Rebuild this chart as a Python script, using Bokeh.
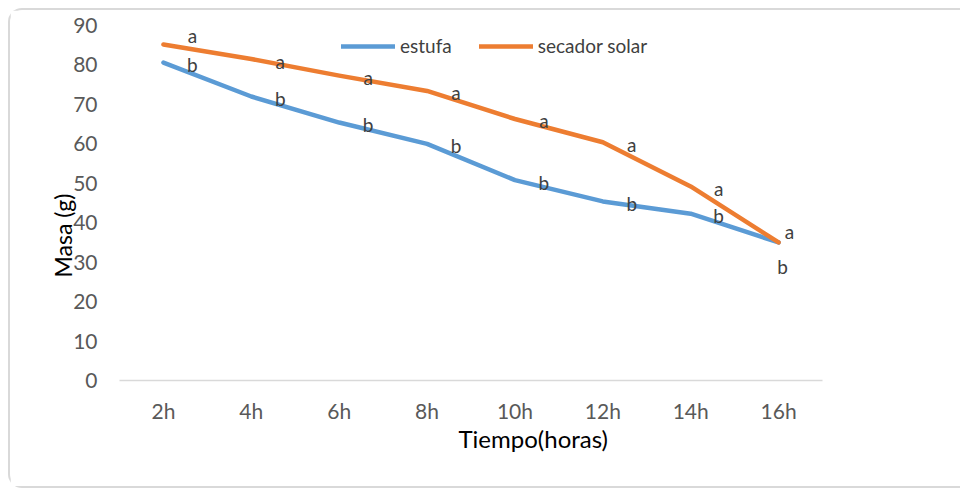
import math
from bokeh.plotting import figure
from bokeh.models import ColumnDataSource, Range1d, FixedTicker, Title, Legend, LegendItem
from bokeh.core.properties import value
from bokeh.embed import file_html
from bokeh.resources import INLINE

horas = ["2h", "4h", "6h", "8h", "10h", "12h", "14h", "16h"]
estufa = [80.6, 72.0, 65.4, 60.0, 50.8, 45.4, 42.3, 35.0]
secador_solar = [85.2, 81.5, 77.3, 73.4, 66.3, 60.4, 49.2, 35.0]
letras_estufa = ["b", "b", "b", "b", "b", "b", "b", "b"]
letras_secador = ["a", "a", "a", "a", "a", "a", "a", "a"]
y_ticks = [0, 10, 20, 30, 40, 50, 60, 70, 80, 90]

FONT = "Lato"
BLUE = "#5B9BD5"
ORANGE = "#ED7D31"

p = figure(x_range=horas, y_range=Range1d(0, 90), width=952, height=480,
           output_backend="svg", toolbar_location=None,
           min_border_left=109, min_border_right=140, min_border_top=15, min_border_bottom=110)
p.outline_line_color = None
p.xgrid.grid_line_color = None
p.ygrid.grid_line_color = None
p.styles = {"margin-left": "8px", "margin-top": "8px",
            "border-left": "2px solid #d9d9d9", "border-top": "2px solid #d9d9d9",
            "border-bottom": "2px solid #d9d9d9", "border-top-left-radius": "14px",
            "border-bottom-left-radius": "14px"}

p.yaxis.ticker = FixedTicker(ticks=y_ticks)
p.yaxis.axis_line_color = None
p.yaxis.major_tick_line_color = None
p.yaxis.minor_tick_line_color = None
p.yaxis.major_label_standoff = 16
p.xaxis.axis_line_color = "#d9d9d9"
p.xaxis.axis_line_width = 1.5
p.xaxis.major_tick_line_color = None
p.xaxis.minor_tick_line_color = None
p.xaxis.major_label_standoff = 11
for ax in (p.xaxis, p.yaxis):
    ax.major_label_text_font = FONT
    ax.major_label_text_font_size = "21px"
    ax.major_label_text_color = "#595959"

src = ColumnDataSource(dict(x=horas, e=estufa, s=secador_solar))

r1 = p.line("x", "e", source=src, color=BLUE, line_width=4.5, line_join="round", line_cap="round")
r2 = p.line("x", "s", source=src, color=ORANGE, line_width=4.5, line_join="round", line_cap="round")

# letter label offsets (px; y downwards positive)
dx_a = [29, 29, 29, 29, 29, 29, 28, 11]
dy_a = [-9, 2, 2, 2, 2, 2, 2, -11]
dx_b = [29, 29, 29, 29, 29, 29, 28, 4]
dy_b = [2, 2, 2, 2, 2, 2, 2, 24]
lab = ColumnDataSource(dict(x=horas, e=estufa, s=secador_solar, le=letras_estufa, ls=letras_secador,
                            dxa=dx_a, dya=dy_a, dxb=dx_b, dyb=dy_b))
p.text("x", "s", text="ls", source=lab, x_offset="dxa", y_offset="dya", text_align="center",
       text_baseline="middle", text_font=value(FONT), text_font_size="19px", text_color="#404040")
p.text("x", "e", text="le", source=lab, x_offset="dxb", y_offset="dyb", text_align="center",
       text_baseline="middle", text_font=value(FONT), text_font_size="19px", text_color="#404040")

legend = Legend(items=[LegendItem(label="estufa", renderers=[r1]),
                       LegendItem(label="secador solar", renderers=[r2])],
                orientation="horizontal", location=(222, 323), padding=0, margin=0,
                spacing=27, glyph_width=54, glyph_height=22, label_standoff=5,
                border_line_color=None, background_fill_alpha=0,
                label_text_font=FONT, label_text_font_size="19px", label_text_color="#404040")
p.add_layout(legend)

p.add_layout(Title(text="Tiempo(horas)", align="left", offset=339, standoff=-8, text_font=FONT,
                   text_font_size="24px", text_font_style="normal", text_color="#000000"), "below")
p.add_layout(Title(text="Masa (g)", align="left", offset=103, standoff=-12, text_font=FONT,
                   text_font_size="23px", text_font_style="normal", text_color="#000000"), "left")

open("out.html", "w").write(file_html(p, INLINE))
